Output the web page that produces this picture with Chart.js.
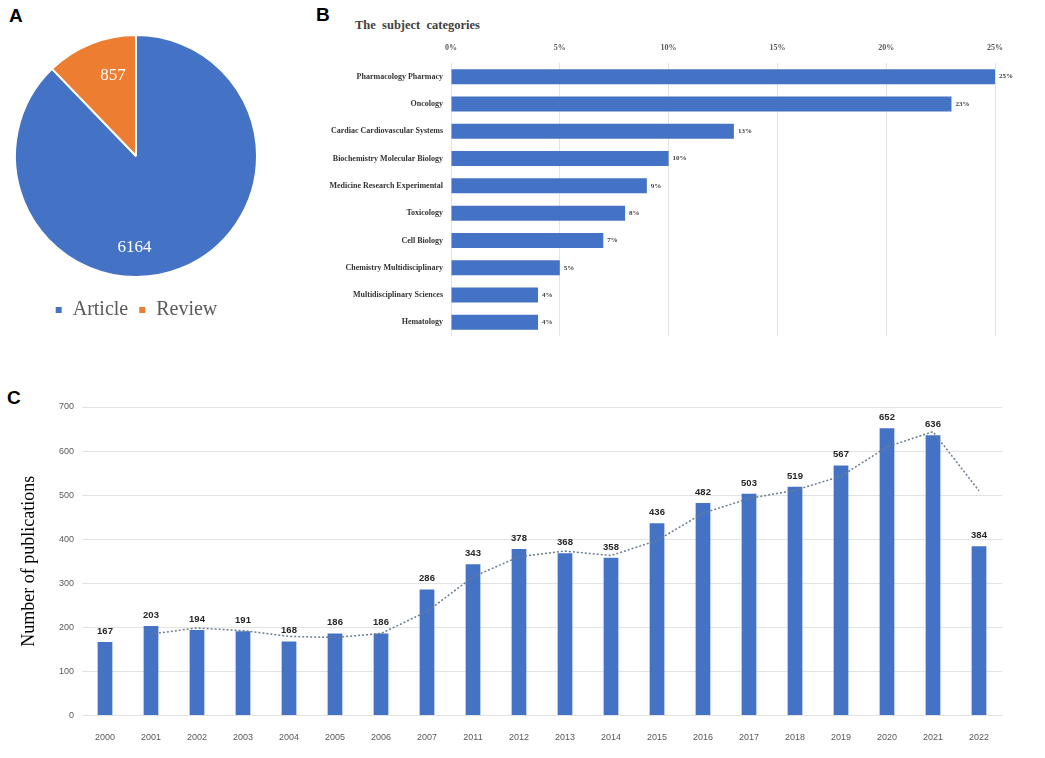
<!DOCTYPE html>
<html>
<head>
<meta charset="utf-8">
<script src="https://cdn.jsdelivr.net/npm/chart.js@4/dist/chart.umd.min.js"></script>
<style>
  html, body { margin: 0; padding: 0; background: #fff; }
  body { width: 1045px; height: 758px; position: relative; overflow: hidden; }
  .panel { position: absolute; }
  .tag { position: absolute; font: bold 19px "Liberation Sans", Arial, sans-serif; color: #000; }
  .subtitle { position: absolute; left: 355px; top: 18px; font: bold 12.5px "Liberation Serif", "Times New Roman", serif; color: #404040; white-space: pre; }
</style>
</head>
<body>
<div class="tag" style="left:9px; top:5px;">A</div>
<div class="tag" style="left:316px; top:4px;">B</div>
<div class="tag" style="left:7px; top:387px;">C</div>
<div class="subtitle">The  subject  categories</div>

<div class="panel" style="left:0; top:0; width:272px; height:330px;"><canvas id="pieChart"></canvas></div>
<div class="panel" style="left:300px; top:0; width:720px; height:350px;"><canvas id="subjectChart"></canvas></div>
<div class="panel" style="left:0; top:380px; width:1045px; height:378px;"><canvas id="yearChart"></canvas></div>

<script>
// Données du panneau A : types de documents
const docTypes = ['Article', 'Review'];
const docCounts = [6164, 857];

// Données du panneau B : catégories (en %)
const subjects = [
    'Pharmacology Pharmacy', 'Oncology', 'Cardiac Cardiovascular Systems',
    'Biochemistry Molecular Biology', 'Medicine Research Experimental', 'Toxicology',
    'Cell Biology', 'Chemistry Multidisciplinary', 'Multidisciplinary Sciences', 'Hematology'
];
const subjectShares = [25, 23, 13, 10, 9, 8, 7, 5, 4, 4];
const shareTicks = [0, 5, 10, 15, 20, 25];

// Données du panneau C : publications par année
const years = ['2000', '2001', '2002', '2003', '2004', '2005', '2006', '2007', '2011', '2012',
    '2013', '2014', '2015', '2016', '2017', '2018', '2019', '2020', '2021', '2022'];
const publications = [167, 203, 194, 191, 168, 186, 186, 286, 343, 378,
    368, 358, 436, 482, 503, 519, 567, 652, 636, 384];
// courbe de tendance en pointillés
const trend = [null, 185, 198.5, 192.5, 179.5, 177, 186, 236, 314.5, 360.5,
    373, 363, 397, 459, 492.5, 511, 543, 609.5, 644, 510];

const BLUE = '#4472C4';
const ORANGE = '#ED7D31';
const SERIF = '"Liberation Serif", "Times New Roman", serif';
const NARROW = '"Liberation Sans Narrow", "Arial Narrow", "Liberation Sans", sans-serif';

Chart.defaults.animation = false;
Chart.defaults.plugins.tooltip.enabled = false;

// Petit plugin pour écrire les valeurs sur les barres / parts
const valueLabels = {
    id: 'valueLabels',
    afterDatasetsDraw(chart, args, opts) {
        const ctx = chart.ctx;
        ctx.save();
        chart.data.datasets.forEach((ds, di) => {
            if (opts.dataset !== undefined && opts.dataset !== di) return;
            const meta = chart.getDatasetMeta(di);
            meta.data.forEach((el, i) => {
                const v = ds.data[i];
                if (v === null || v === undefined) return;
                ctx.font = opts.font;
                ctx.fillStyle = opts.color;
                let x, y;
                if (opts.mode === 'pie') {
                    const p = opts.spots[i];
                    const a = p.angle * Math.PI / 180;
                    x = el.x + Math.sin(a) * el.outerRadius * p.r;
                    y = el.y - Math.cos(a) * el.outerRadius * p.r;
                    ctx.textAlign = 'center';
                    ctx.textBaseline = 'middle';
                } else if (opts.mode === 'right') {
                    x = el.x + 4;
                    y = el.y;
                    ctx.textAlign = 'left';
                    ctx.textBaseline = 'middle';
                } else {
                    x = el.x;
                    y = el.y - 6;
                    ctx.textAlign = 'center';
                    ctx.textBaseline = 'bottom';
                }
                ctx.fillText(v + (opts.suffix || ''), x, y);
            });
        });
        ctx.restore();
    }
};

// Panneau A : camembert
new Chart(document.getElementById('pieChart'), {
    type: 'pie',
    data: {
        labels: docTypes,
        datasets: [{
            data: docCounts,
            backgroundColor: [BLUE, ORANGE],
            borderColor: '#fff',
            borderWidth: 2
        }]
    },
    options: {
        responsive: true,
        maintainAspectRatio: false,
        layout: { padding: { top: 22, left: 14, right: 14, bottom: 0 } },
        plugins: {
            legend: {
                position: 'bottom',
                labels: {
                    boxWidth: 8,
                    boxHeight: 8,
                    padding: 10,
                    color: '#595959',
                    font: { family: SERIF, size: 20 }
                }
            },
            valueLabels: {
                mode: 'pie',
                font: '17px ' + SERIF,
                color: '#fff',
                spots: [{ angle: 181, r: 0.76 }, { angle: -16, r: 0.69 }]
            }
        }
    },
    plugins: [valueLabels]
});

// Panneau B : barres horizontales
new Chart(document.getElementById('subjectChart'), {
    type: 'bar',
    data: {
        labels: subjects,
        datasets: [{
            data: subjectShares,
            backgroundColor: BLUE,
            barPercentage: 1,
            categoryPercentage: 0.55
        }]
    },
    options: {
        indexAxis: 'y',
        responsive: true,
        maintainAspectRatio: false,
        layout: { padding: { top: 38.8, left: 0, right: 25, bottom: 14 } },
        scales: {
            x: {
                position: 'top',
                min: 0,
                max: 25,
                afterBuildTicks: scale => { scale.ticks = shareTicks.map(v => ({ value: v })); },
                afterFit: scale => { scale.height = 24.2; },
                grid: { color: '#e3e3e3', drawTicks: false },
                border: { display: false },
                ticks: {
                    padding: 10,
                    color: '#595959',
                    font: { family: SERIF, size: 8, weight: 'bold' },
                    callback: v => v + '%'
                }
            },
            y: {
                afterFit: scale => { scale.width = 151; },
                grid: { display: false },
                border: { display: false },
                ticks: {
                    padding: 0,
                    color: '#333',
                    font: { family: SERIF, size: 8, weight: 'bold' }
                }
            }
        },
        plugins: {
            legend: { display: false },
            valueLabels: {
                mode: 'right',
                suffix: '%',
                font: 'bold 7px ' + SERIF,
                color: '#404040'
            }
        }
    },
    plugins: [valueLabels]
});

// Panneau C : publications par année + tendance
new Chart(document.getElementById('yearChart'), {
    data: {
        labels: years,
        datasets: [{
            type: 'line',
            data: trend,
            borderColor: '#6b7c8e',
            borderWidth: 1.5,
            borderDash: [2, 2],
            pointRadius: 0,
            tension: 0,
            fill: false,
            order: 0
        }, {
            type: 'bar',
            data: publications,
            backgroundColor: BLUE,
            barPercentage: 1,
            categoryPercentage: 0.32,
            order: 1
        }]
    },
    options: {
        responsive: true,
        maintainAspectRatio: false,
        layout: { padding: { top: 27, left: 0, right: 43, bottom: 0 } },
        scales: {
            x: {
                afterFit: scale => { scale.height = 42.5; },
                grid: { display: false },
                border: { display: false },
                ticks: {
                    padding: 9,
                    color: '#595959',
                    font: { family: NARROW, size: 9 }
                }
            },
            y: {
                min: 0,
                max: 700,
                afterFit: scale => { scale.width = 82; },
                grid: { color: '#e3e3e3', drawTicks: false },
                border: { display: false },
                ticks: {
                    stepSize: 100,
                    padding: 8,
                    color: '#595959',
                    font: { family: NARROW, size: 9 }
                },
                title: {
                    display: true,
                    text: 'Number of publications',
                    color: '#000',
                    padding: { top: 18, bottom: 0 },
                    font: { family: SERIF, size: 18 }
                }
            }
        },
        plugins: {
            legend: { display: false },
            valueLabels: {
                dataset: 1,
                mode: 'top',
                font: 'bold 9.5px ' + NARROW,
                color: '#262626'
            }
        }
    },
    plugins: [valueLabels]
});
</script>
</body>
</html>
